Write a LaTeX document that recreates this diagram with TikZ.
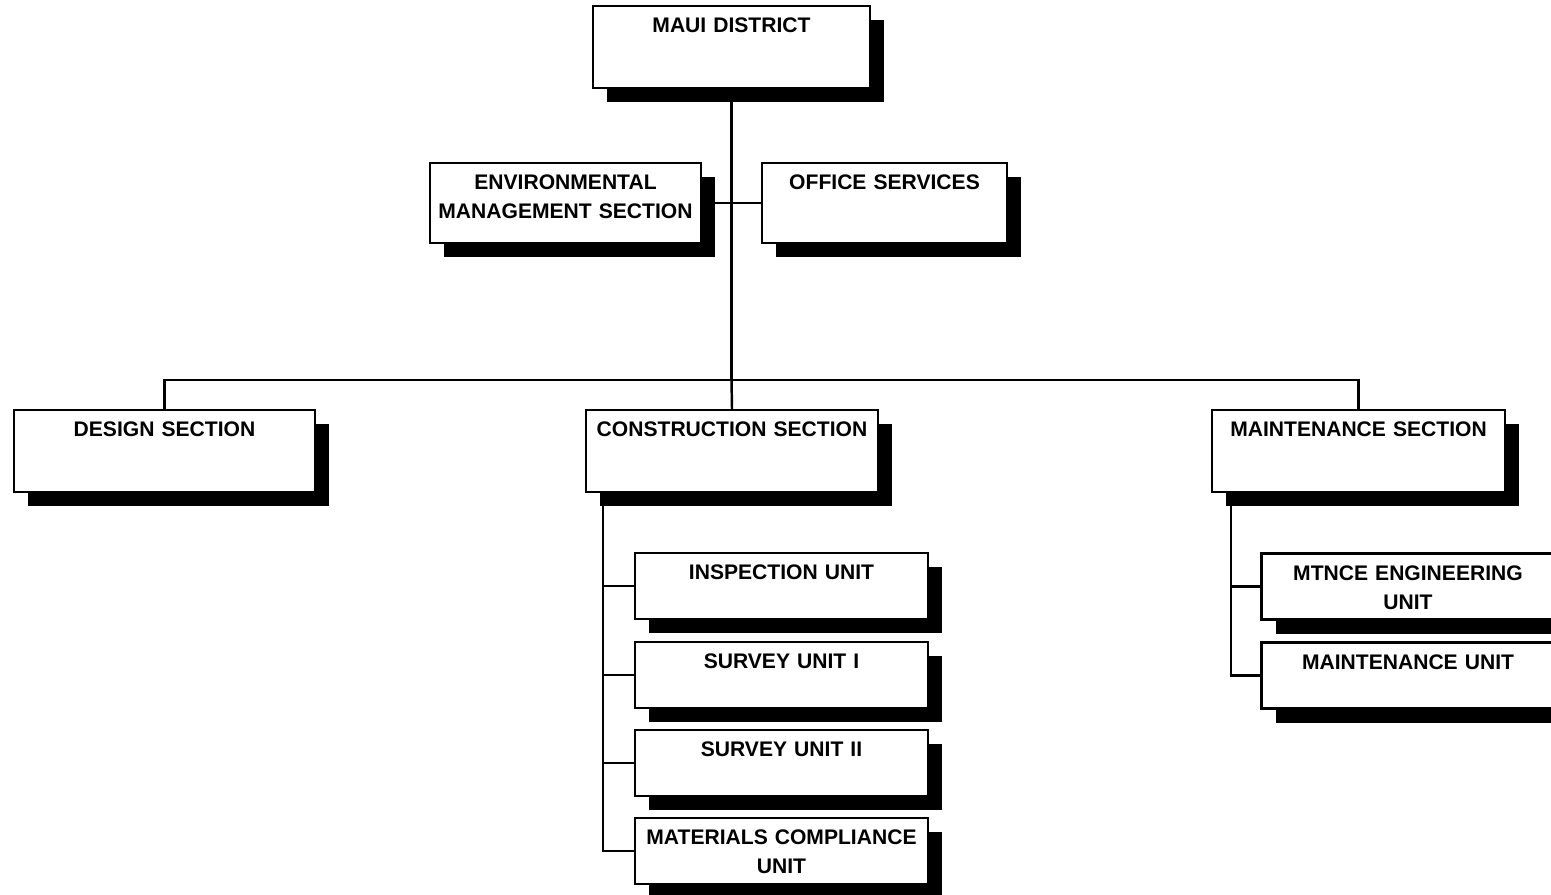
\documentclass[tikz,border=0pt]{standalone}
\usepackage{fontspec}
\setmainfont{Liberation Sans}
\usetikzlibrary{shadows,calc}
\tikzset{
  box/.style={rectangle, draw=black, line width=1.3pt, fill=white, inner sep=0pt,
    align=center, text height=0.53cm,
    font=\fontsize{12}{16.5}\selectfont\bfseries,
    drop shadow={shadow xshift=0.28cm, shadow yshift=-0.28cm, opacity=1, fill=black}},
  sect/.style={box, minimum width=#1, text width=#1, minimum height=1.64cm, text depth=1.11cm},
  mid/.style={box, minimum width=#1, text width=#1, minimum height=1.6cm, text depth=1.07cm},
  unit/.style={box, minimum width=5.86cm, text width=5.86cm, minimum height=1.32cm, text depth=0.79cm},
  conn/.style={line width=1.4pt},
}
\begin{document}
\begin{tikzpicture}[x=0.02cm, y=-0.02cm]
  \useasboundingbox (0,0) rectangle (1551,894);
  % top and staff
  \node[sect=5.54cm] (maui) at (731.5,47) {MAUI DISTRICT};
  \node[mid=5.42cm] (env) at (565.5,203) {ENVIRONMENTAL\\MANAGEMENT SECTION};
  \node[mid=4.9cm] (office) at (884.5,203) {OFFICE SERVICES};
  % sections
  \node[sect=6.02cm] (design) at (164.5,451) {DESIGN SECTION};
  \node[sect=5.84cm] (constr) at (732,451) {CONSTRUCTION SECTION};
  \node[sect=5.86cm] (maint) at (1358.5,451) {MAINTENANCE SECTION};
  % units
  \node[unit] (insp) at (781.5,586) {INSPECTION UNIT};
  \node[unit] (surv1) at (781.5,675) {SURVEY UNIT I};
  \node[unit] (surv2) at (781.5,763) {SURVEY UNIT II};
  \node[unit] (matl) at (781.5,851) {MATERIALS COMPLIANCE\\UNIT};
  \node[unit] (mtnce) at (1408,586.5) {MTNCE ENGINEERING\\UNIT};
  \node[unit] (maintu) at (1408,675.5) {MAINTENANCE UNIT};
  % connectors
  \coordinate (bar) at (maui.south |- 0,380);
  \draw[conn] (env.east) -- (office.west);
  \draw[conn] (maui.south) -- (bar);
  \draw[conn] (design.north) |- (bar) -| (maint.north);
  \draw[conn] (bar) -- (constr.north);
  \coordinate (cspine) at ([xshift=0.36cm]constr.south west);
  \draw[conn] (cspine) |- (matl.west);
  \foreach \u in {insp,surv1,surv2} \draw[conn] (cspine |- \u.west) -- (\u.west);
  \coordinate (mspine) at ([xshift=0.4cm]maint.south west);
  \draw[conn] (mspine) |- (maintu.west);
  \draw[conn] (mspine |- mtnce.west) -- (mtnce.west);
\end{tikzpicture}
\end{document}
